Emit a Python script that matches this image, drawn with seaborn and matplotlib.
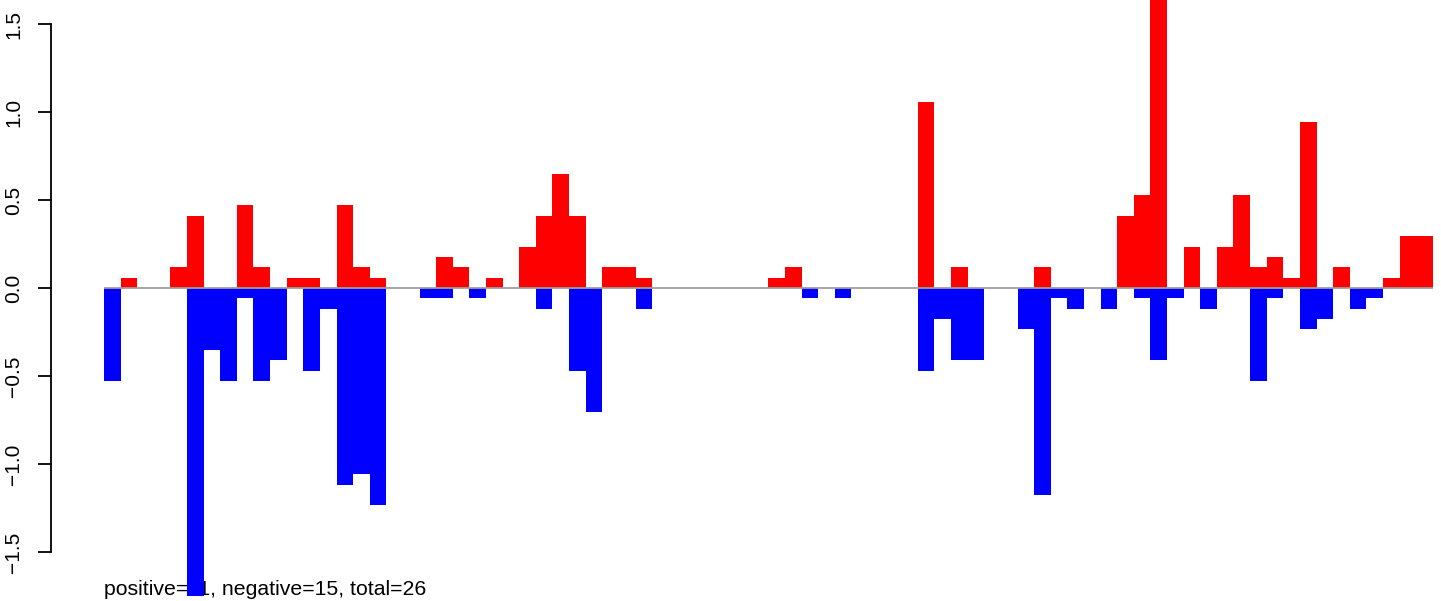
import numpy as np
import pandas as pd
import matplotlib
matplotlib.use("Agg")
import matplotlib.pyplot as plt
import seaborn as sns

# one value per bin, positive (red) and negative (blue) part
bins = list(range(1, 81))
pos_vals = [0, 0.059, 0, 0, 0.118, 0.412, 0, 0, 0.471, 0.118,
            0, 0.059, 0.059, 0, 0.471, 0.118, 0.059, 0, 0, 0,
            0.176, 0.118, 0, 0.059, 0, 0.235, 0.412, 0.647, 0.412, 0,
            0.118, 0.118, 0.059, 0, 0, 0, 0, 0, 0, 0,
            0.059, 0.118, 0, 0, 0, 0, 0, 0, 0, 1.059,
            0, 0.118, 0, 0, 0, 0, 0.118, 0, 0, 0,
            0, 0.412, 0.529, 1.76, 0, 0.235, 0, 0.235, 0.529, 0.118,
            0.176, 0.059, 0.941, 0, 0.118, 0, 0, 0.059, 0.294, 0.294]
neg_vals = [-0.529, 0, 0, 0, 0, -1.75, -0.353, -0.529, -0.059, -0.529,
            -0.412, 0, -0.471, -0.118, -1.118, -1.059, -1.235, 0, 0, -0.059,
            -0.059, 0, -0.059, 0, 0, 0, -0.118, 0, -0.471, -0.706,
            0, 0, -0.118, 0, 0, 0, 0, 0, 0, 0,
            0, 0, -0.059, 0, -0.059, 0, 0, 0, 0, -0.471,
            -0.176, -0.412, -0.412, 0, 0, -0.235, -1.176, -0.059, -0.118, 0,
            -0.118, 0, -0.059, -0.412, -0.059, 0, -0.118, 0, 0, -0.529,
            -0.059, 0, -0.235, -0.176, 0, -0.118, -0.059, 0, 0, 0]
caption = "positive=11, negative=15, total=26"
yticks = [-1.5, -1.0, -0.5, 0.0, 0.5, 1.0, 1.5]

df = pd.DataFrame({"bin": bins, "pos": pos_vals, "neg": neg_vals})

sns.set_style("white")
plt.rcParams['font.family'] = ['Liberation Sans', 'DejaVu Sans']

fig = plt.figure(figsize=(14.41, 6.01), dpi=100)
ax = fig.add_axes([0, 0, 1, 1])

# caption goes under the bars
ax.text(-0.5, -1.745, caption, fontsize=15.3, color="black",
        va='baseline', ha='left', zorder=1)

sns.barplot(data=df, x="bin", y="pos", color="#FF0000", saturation=1,
            width=1, errorbar=None, linewidth=0, edgecolor="none", ax=ax, zorder=2)
sns.barplot(data=df, x="bin", y="neg", color="#0000FF", saturation=1,
            width=1, errorbar=None, linewidth=0, edgecolor="none", ax=ax, zorder=2)

n = len(bins)
ax.hlines(0, -0.5, n - 0.5, color="#9E9E9E", linewidth=1.3, zorder=3)

# pixel layout: bin 0 starts at x=104, bins ~16.6px wide; y=0 at 288px
ax.set_xlim(-6.761, 79.995)
ax.set_ylim(-1.779, 1.637)

for s in ["top", "right", "bottom"]:
    ax.spines[s].set_visible(False)
ax.spines["left"].set_position(("data", -3.72))
ax.spines["left"].set_bounds(-1.5, 1.5)
ax.spines["left"].set_linewidth(1.3)
ax.spines["left"].set_color("black")
ax.set_yticks(yticks)
ax.set_yticklabels([f"{v:.1f}".replace("-", "\u2212") for v in yticks],
                   rotation=90, va="center", fontsize=15)
ax.tick_params(axis="y", direction="out", length=9.7, width=1.3, pad=10,
               left=True, color="black", labelcolor="black")
ax.set_xticks([])
ax.set_xlabel("")
ax.set_ylabel("")

fig.savefig("out.png", dpi=100)
